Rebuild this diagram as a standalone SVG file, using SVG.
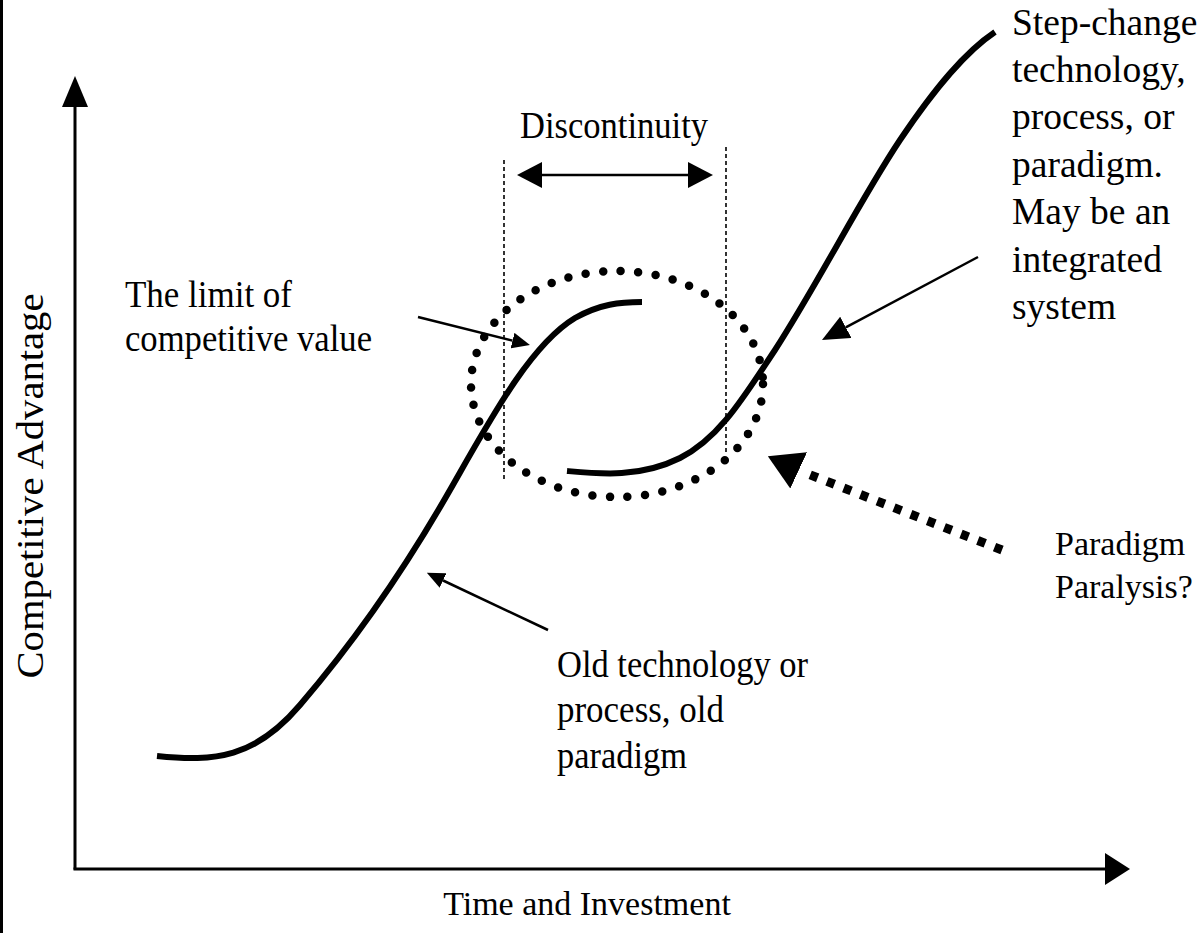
<svg xmlns="http://www.w3.org/2000/svg" width="1200" height="933" viewBox="0 0 1200 933">
<style>
  text { font-family: "Liberation Serif", "Times New Roman", serif; font-size: 34px; fill: #000; }
  .tall { font-size: 37px; }
  .side { font-size: 37.5px; }
  .axis { stroke: #000; stroke-width: 3; fill: none; }
  .curve { stroke: #000; stroke-width: 6; fill: none; stroke-linecap: butt; }
  .thin { stroke: #000; stroke-width: 2.5; fill: none; }
  .guide { stroke: #000; stroke-width: 1.6; fill: none; stroke-dasharray: 4 3; }
  .ring { stroke: #000; stroke-width: 8.5; fill: none; stroke-dasharray: 0 17.6; stroke-linecap: round; }
  .dashed { stroke: #000; stroke-width: 9; fill: none; stroke-dasharray: 8 10; }
</style>
<defs>
  <marker id="headS" viewBox="0 0 18 16" refX="0" refY="8" markerWidth="18" markerHeight="16" markerUnits="userSpaceOnUse" orient="auto">
    <path d="M0,0 L18,8 L0,16 z" fill="#000"/>
  </marker>
  <marker id="headM" viewBox="0 0 27 24" refX="0" refY="12" markerWidth="27" markerHeight="24" markerUnits="userSpaceOnUse" orient="auto">
    <path d="M0,0 L27,12 L0,24 z" fill="#000"/>
  </marker>
  <marker id="headL" viewBox="0 0 34 40" refX="0" refY="20" markerWidth="34" markerHeight="40" markerUnits="userSpaceOnUse" orient="auto">
    <path d="M0,0 L34,20 L0,40 z" fill="#000"/>
  </marker>
  <marker id="headD" viewBox="0 0 25 26" refX="0" refY="13" markerWidth="25" markerHeight="26" markerUnits="userSpaceOnUse" orient="auto-start-reverse">
    <path d="M0,0 L25,13 L0,26 z" fill="#000"/>
  </marker>
</defs>
<rect width="1200" height="933" fill="#fff"/>
<line x1="1.5" y1="0" x2="1.5" y2="933" stroke="#000" stroke-width="3"/>

<g id="axes">
  <line class="axis" x1="75" y1="100" x2="75" y2="869.5"/>
  <polygon points="75,76 62,107 88,107" fill="#000"/>
  <line class="axis" x1="73.5" y1="869" x2="1108" y2="869"/>
  <polygon points="1130,869 1105,853 1105,885" fill="#000"/>
  <text id="x-label" x="587" y="915" text-anchor="middle">Time and Investment</text>
  <text id="y-label" class="tall" transform="translate(43,486) rotate(-90)" text-anchor="middle" textLength="385" lengthAdjust="spacingAndGlyphs">Competitive Advantage</text>
</g>

<g id="old-curve">
  <path class="curve" d="M157,756 C215,762 255,758 300,705 C360,635 410,560 450,490 C490,420 530,345 575,318 C600,304 620,302 642,302"/>
</g>

<g id="new-curve">
  <path class="curve" d="M567,471 C600,474 640,478 680,458 C720,438 745,395 775,350 C820,280 860,200 900,140 C935,88 965,52 995,32"/>
</g>

<g id="discontinuity">
  <ellipse class="ring" cx="617" cy="384" rx="146" ry="113"/>
  <line class="guide" x1="504" y1="160" x2="504" y2="480"/>
  <line class="guide" x1="726" y1="147" x2="726" y2="455"/>
  <text class="tall" x="520" y="138" textLength="188" lengthAdjust="spacingAndGlyphs">Discontinuity</text>
</g>

<g id="connectors">
  <line class="thin" x1="542" y1="175" x2="688" y2="175" marker-start="url(#headD)" marker-end="url(#headD)"/>
  <line class="thin" x1="418" y1="317" x2="512.5" y2="340.6" marker-end="url(#headS)"/>
  <line class="thin" x1="548" y1="630" x2="443.1" y2="580.5" marker-end="url(#headS)"/>
  <line class="thin" x1="978" y1="257" x2="845.8" y2="327.3" marker-end="url(#headM)"/>
  <line class="dashed" x1="1002" y1="550" x2="803" y2="472"/>
  <line x1="800" y1="471" x2="798.7" y2="470.4" stroke="none" marker-end="url(#headL)"/>
</g>

<g id="label-limit">
  <text class="tall" x="125" y="307" textLength="167" lengthAdjust="spacingAndGlyphs">The limit of</text>
  <text class="tall" x="125" y="351" textLength="247" lengthAdjust="spacingAndGlyphs">competitive value</text>
</g>

<g id="label-old">
  <text class="tall" x="557" y="677" textLength="251" lengthAdjust="spacingAndGlyphs">Old technology or</text>
  <text class="tall" x="557" y="722" textLength="167" lengthAdjust="spacingAndGlyphs">process, old</text>
  <text class="tall" x="557" y="768" textLength="130" lengthAdjust="spacingAndGlyphs">paradigm</text>
</g>

<g id="label-step">
  <text class="side" x="1012" y="35">Step-change</text>
  <text class="side" x="1012" y="82">technology,</text>
  <text class="side" x="1012" y="129">process, or</text>
  <text class="side" x="1012" y="177">paradigm.</text>
  <text class="side" x="1012" y="224">May be an</text>
  <text class="side" x="1012" y="272">integrated</text>
  <text class="side" x="1012" y="319">system</text>
</g>

<g id="label-paralysis">
  <text x="1055" y="555">Paradigm</text>
  <text x="1055" y="598">Paralysis?</text>
</g>
</svg>
